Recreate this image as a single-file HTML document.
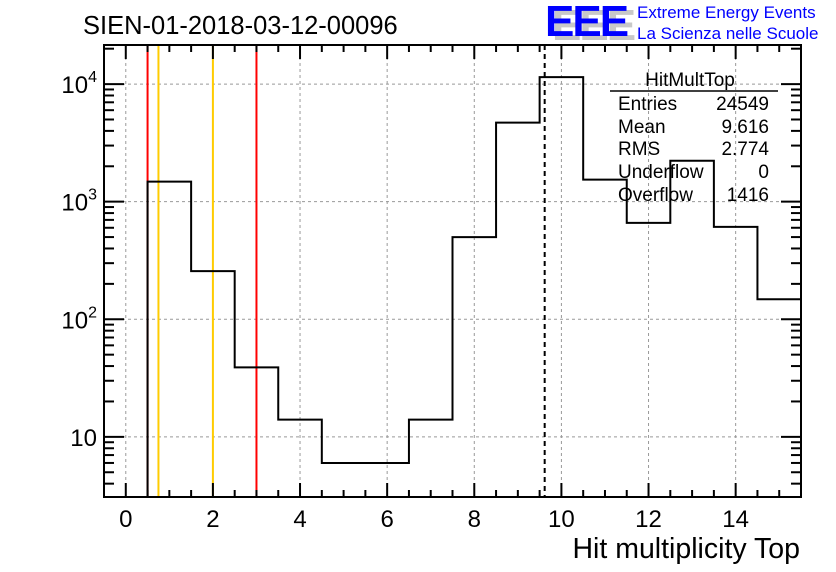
<!DOCTYPE html>
<html><head><meta charset="utf-8"><style>
html,body{margin:0;padding:0;background:#fff;}
svg{display:block;font-family:"Liberation Sans",sans-serif;}
</style></head><body>
<svg id="c" width="836" height="572" xmlns="http://www.w3.org/2000/svg">
<text x="83" y="34" font-size="25.5">SIEN-01-2018-03-12-00096</text>
<g>
<text x="552" y="40" font-size="44" font-weight="bold" fill="#c8c8c8" letter-spacing="-2">EEE</text>
<text x="545" y="36" font-size="44" font-weight="bold" fill="#0000ff" letter-spacing="-2">EEE</text>
<text x="637" y="18" font-size="17" fill="#0000ff">Extreme Energy Events</text>
<text x="637" y="39" font-size="17" fill="#0000ff">La Scienza nelle Scuole</text>
</g>
<g id="grid"></g><g id="marks"></g><g id="axes"></g>
<text x="800" y="558" font-size="28.5" text-anchor="end">Hit multiplicity Top</text>
<g font-size="19">
<text x="690" y="86" text-anchor="middle">HitMultTop</text>
<line x1="610" y1="91" x2="778" y2="91" stroke="#000" stroke-width="1.5"/>
<text x="618" y="110">Entries</text><text x="769" y="110" text-anchor="end">24549</text>
<text x="618" y="133">Mean</text><text x="769" y="133" text-anchor="end">9.616</text>
<text x="618" y="155">RMS</text><text x="769" y="155" text-anchor="end">2.774</text>
<text x="618" y="178">Underflow</text><text x="769" y="178" text-anchor="end">0</text>
<text x="618" y="201">Overflow</text><text x="769" y="201" text-anchor="end">1416</text>
</g>
</svg>
<script>
const binCenters=[0,1,2,3,4,5,6,7,8,9,10,11,12,13,14,15];
const counts=[0,1480,257,39,14,6,6,14,500,4700,11470,1540,660,2230,610,148];
const redLines=[0.5,3.0];
const orangeLines=[0.75,2.0];
const meanValue=9.616;
const xTicks=[0,2,4,6,8,10,12,14];
const yDecades=[1,2,3,4];
const X0=104,X1=801,Y0=45,Y1=497,xmin=-0.5,xmax=15.5,lmin=Math.log10(3.08),lmax=Math.log10(21500);
const sx=v=>X0+(v-xmin)/(xmax-xmin)*(X1-X0);
const sy=v=>Y1-(Math.log10(Math.max(v,3.08))-lmin)/(lmax-lmin)*(Y1-Y0);
const NS='http://www.w3.org/2000/svg';
function mk(p,t,a){const e=document.createElementNS(NS,t);for(const k in a)e.setAttribute(k,a[k]);p.appendChild(e);return e;}
const G=document.getElementById('grid'),M=document.getElementById('marks'),A=document.getElementById('axes');
xTicks.forEach(t=>{const l=mk(G,'line',{x1:sx(t),x2:sx(t),y1:Y0,y2:Y1,stroke:'#999','stroke-dasharray':'3,3','stroke-width':1});

});
yDecades.forEach(d=>{const y=sy(Math.pow(10,d));const l=mk(G,'line',{x1:X0,x2:X1,y1:y,y2:y,stroke:'#999','stroke-dasharray':'3,3','stroke-width':1});

});
orangeLines.forEach(v=>{const l=mk(M,'line',{x1:sx(v),x2:sx(v),y1:Y0,y2:Y1,stroke:'#ffcc00','stroke-width':2});

});
redLines.forEach(v=>{const l=mk(M,'line',{x1:sx(v),x2:sx(v),y1:Y0,y2:Y1,stroke:'#ff0000','stroke-width':2});

});
let d='';
binCenters.forEach((c,i)=>{const xl=sx(c-0.5),xr=sx(c+0.5),y=counts[i]>0?sy(counts[i]):Y1;
if(i===0)d+='M'+xl+','+y;else d+='L'+xl+','+y;d+='L'+xr+','+y;});
const h=mk(M,'path',{d:d,fill:'none',stroke:'#000','stroke-width':2});


const ml=mk(M,'line',{x1:sx(meanValue),x2:sx(meanValue),y1:Y0,y2:Y1,stroke:'#000','stroke-width':2,'stroke-dasharray':'5,4'});


const fr=mk(A,'rect',{x:X0,y:Y0,width:X1-X0,height:Y1-Y0,fill:'none',stroke:'#000','stroke-width':2});


for(let v=-0.5;v<=15.5;v+=0.5){const x=sx(v);const major=Math.abs(v%2)<1e-9;const L=major?14:7;
mk(A,'line',{x1:x,x2:x,y1:Y1,y2:Y1-L,stroke:'#000','stroke-width':2});
mk(A,'line',{x1:x,x2:x,y1:Y0,y2:Y0+L,stroke:'#000','stroke-width':2});}
xTicks.forEach(t=>{const e=mk(A,'text',{x:sx(t),y:527,'font-size':24,'text-anchor':'middle'});e.textContent=t;

});
for(let d0=0;d0<=4;d0++)for(let m=1;m<10;m++){const v=m*Math.pow(10,d0);const lv=Math.log10(v);if(lv<lmin||lv>lmax)continue;
const y=sy(v);const L=m===1?20:10;
mk(A,'line',{x1:X0,x2:X0+L,y1:y,y2:y,stroke:'#000','stroke-width':2});
mk(A,'line',{x1:X1,x2:X1-L,y1:y,y2:y,stroke:'#000','stroke-width':2});}
yDecades.forEach(d0=>{const y=sy(Math.pow(10,d0));const e=mk(A,'text',{x:97,y:y+9,'font-size':24,'text-anchor':'end'});
if(d0===1)e.textContent='10';else{e.textContent='10';const s=mk(e,'tspan',{dy:-11,'font-size':16});s.textContent=d0;}

});
</script>
</body></html>
